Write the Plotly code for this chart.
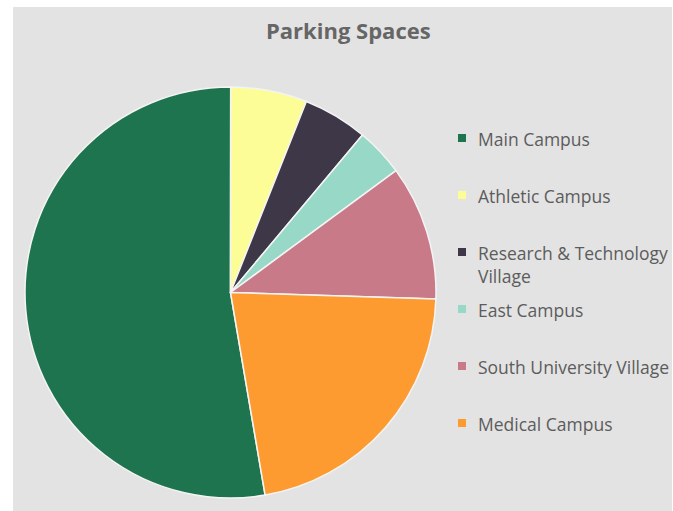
import plotly.graph_objects as go

# Parking spaces by campus
labels = [
    "Main Campus",
    "Athletic Campus",
    "Research & Technology Village",
    "East Campus",
    "South University Village",
    "Medical Campus",
]
legend_text = [
    "Main Campus",
    "Athletic Campus",
    "Research & Technology<br>Village",
    "East Campus",
    "South University Village",
    "Medical Campus",
]
spaces = [10540, 1200, 1016, 760, 2120, 4360]
colors = ["#1f7450", "#fdfd98", "#3d3747", "#98d8c6", "#c97a89", "#fd9b30"]

W, H = 673, 511

fig = go.Figure()
fig.add_trace(go.Pie(
    labels=labels,
    values=spaces,
    sort=False,
    direction="clockwise",
    rotation=170.3,
    textinfo="none",
    marker=dict(colors=colors, line=dict(color="#f4f4f4", width=1.5)),
    domain=dict(x=[25 / W, 436 / W], y=[13 / H, 424 / H]),
    showlegend=False,
))

shapes = [
    # grey chart area
    dict(type="rect", xref="paper", yref="paper",
         x0=13 / W, x1=672 / W, y0=0, y1=(H - 7) / H,
         fillcolor="#e3e3e3", line=dict(width=0), layer="below"),
]
annotations = [
    dict(text="<b>Parking Spaces</b>", x=348 / W, y=1 - 30 / H,
         xref="paper", yref="paper", xanchor="center", yanchor="middle",
         showarrow=False, font=dict(family="Open Sans", size=22, color="#666666")),
]

# hand-built legend
legend_y = [138, 195, 252, 309, 366, 423]
for lab, col, yy in zip(legend_text, colors, legend_y):
    shapes.append(dict(type="rect", xref="paper", yref="paper",
                       x0=458 / W, x1=466 / W,
                       y0=1 - (yy + 4) / H, y1=1 - (yy - 4) / H,
                       fillcolor=col, line=dict(width=0)))
    annotations.append(dict(text=lab, x=476 / W, y=1 - (yy - 13) / H,
                            xref="paper", yref="paper",
                            xanchor="left", yanchor="top", align="left",
                            showarrow=False,
                            font=dict(family="Open Sans", size=17.5, color="#5c5c5c")))

fig.update_layout(
    width=W, height=H,
    margin=dict(l=0, r=0, t=0, b=0),
    paper_bgcolor="white",
    shapes=shapes,
    annotations=annotations,
)

fig.write_html("out.html")
